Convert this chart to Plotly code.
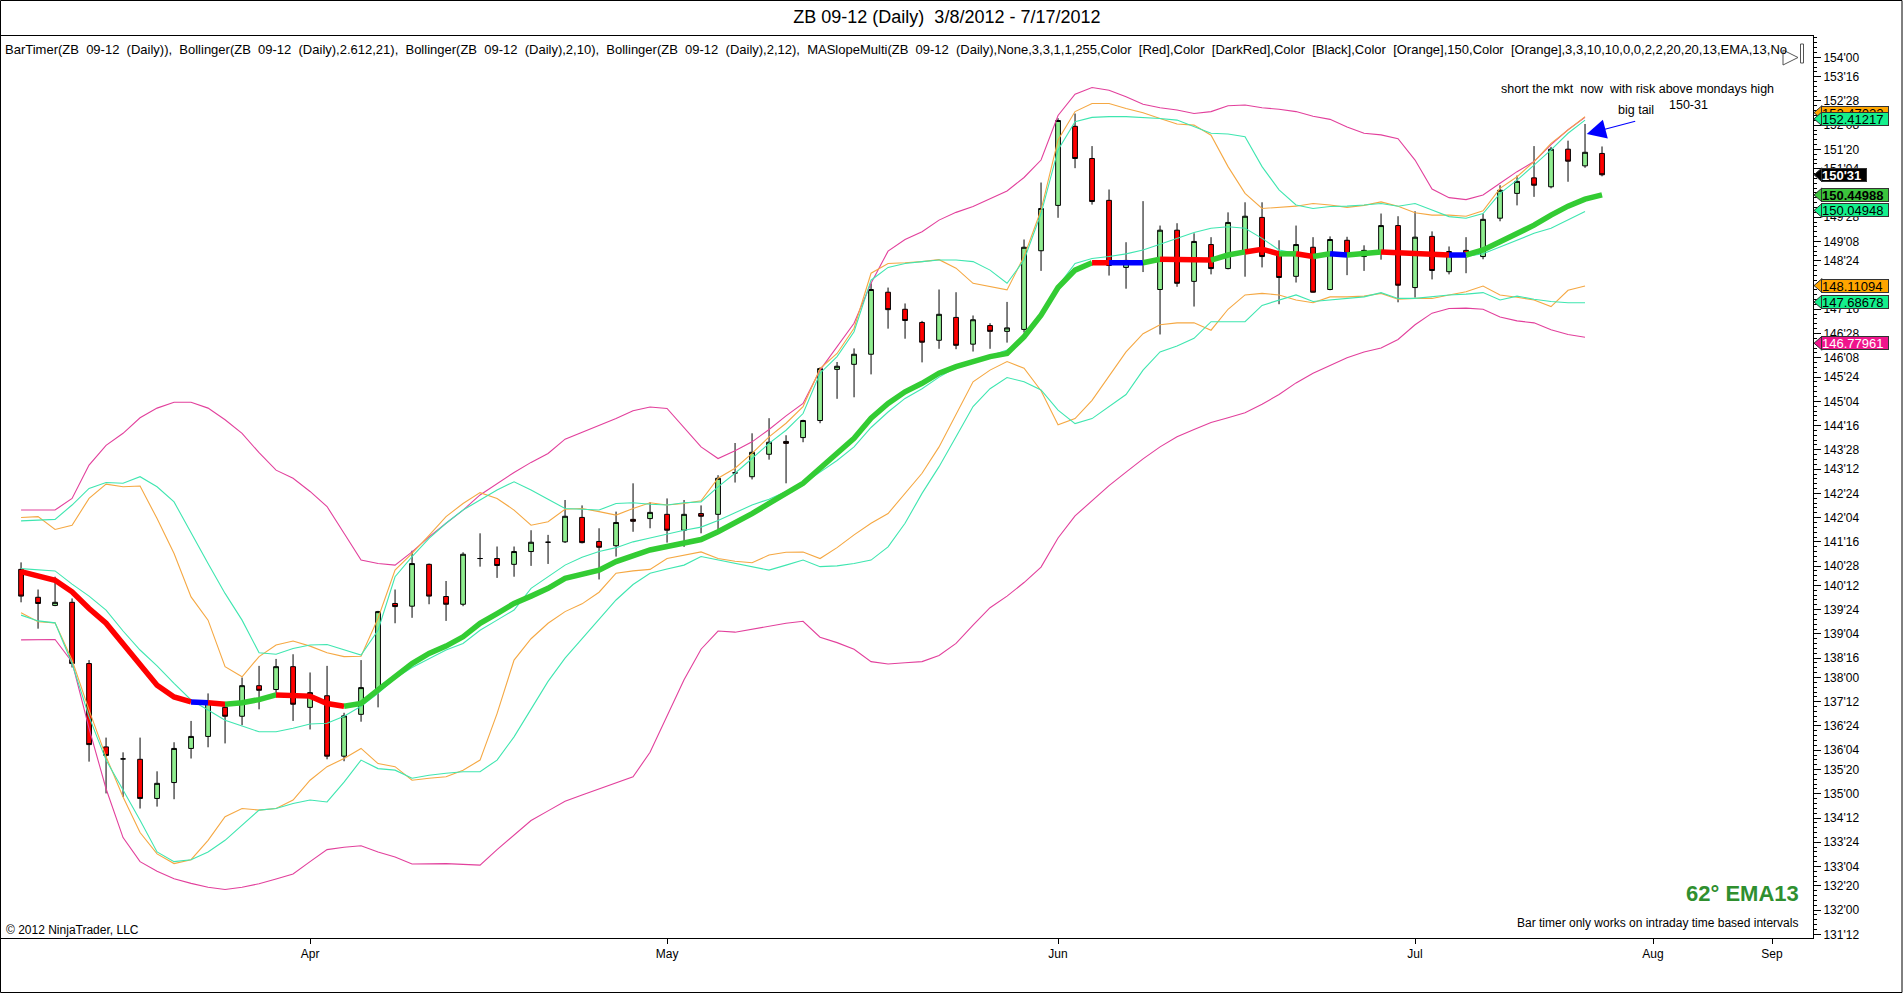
import numpy as np
import plotly.graph_objects as go

# --- daily bars, ZB 09-12 (bar index 0 = 3/8/2012) ---
opens = [140.79, 140.07, 139.86, 139.94, 138.36, 136.21, 135.90, 135.89, 134.88, 135.29,
         136.17, 136.48, 137.23, 137.00, 137.79, 137.69, 138.28, 137.23, 137.53, 135.97,
         137.05, 137.68, 139.91, 139.84, 140.92, 140.09, 139.89, 141.07, 141.07, 140.92,
         141.25, 141.49, 141.50, 142.13, 141.51, 141.40, 142.08, 142.10, 142.21, 141.80,
         142.23, 142.21, 143.28, 143.18, 143.76, 144.09, 144.19, 144.63, 145.95, 146.08,
         146.34, 147.94, 147.50, 147.16, 146.70, 147.29, 146.60, 147.08, 146.93, 146.98,
         149.01, 150.18, 152.22, 151.39, 150.31, 148.58, 148.71, 148.01, 149.54, 148.22,
         149.17, 148.55, 148.97, 149.87, 148.92, 148.35, 149.10, 148.01, 149.28, 148.86,
         148.99, 149.66, 148.06, 149.38, 148.47, 149.02, 148.86, 149.85, 150.49, 150.89,
         150.66, 151.63, 151.20, 151.52]
highs = [140.97, 140.27, 140.60, 140.04, 138.45, 136.45, 136.07, 136.45, 135.58, 136.33,
         136.88, 137.59, 137.31, 138.00, 138.30, 138.48, 138.60, 138.13, 138.30, 137.09,
         138.45, 139.72, 140.27, 141.27, 140.94, 140.49, 141.23, 141.72, 141.38, 141.38,
         141.80, 141.68, 142.58, 142.44, 141.85, 142.28, 143.01, 142.52, 142.62, 142.58,
         142.44, 143.22, 144.05, 144.30, 144.69, 144.25, 144.65, 146.00, 146.14, 146.49,
         148.17, 148.06, 147.65, 147.20, 148.01, 147.94, 147.34, 147.14, 147.69, 149.30,
         150.77, 152.43, 152.55, 151.71, 150.59, 149.23, 150.29, 149.66, 149.72, 149.46,
         149.36, 150.00, 150.26, 150.26, 149.28, 149.66, 149.36, 149.38, 149.37, 149.15,
         149.97, 149.90, 150.03, 149.51, 149.12, 149.36, 149.97, 150.70, 150.95, 151.71,
         151.69, 151.85, 152.28, 151.70]
lows = [139.94, 139.26, 139.84, 138.26, 135.83, 135.01, 134.92, 134.62, 134.67, 134.86,
        135.91, 136.20, 136.30, 136.77, 137.18, 137.50, 136.88, 136.66, 135.89, 135.84,
        136.86, 137.23, 139.40, 139.54, 139.89, 139.46, 139.84, 140.86, 140.57, 140.60,
        140.88, 140.93, 141.47, 141.46, 140.53, 141.12, 141.76, 141.85, 141.48, 141.37,
        141.72, 141.82, 143.03, 143.11, 143.62, 143.01, 144.07, 144.56, 145.19, 145.23,
        145.82, 147.00, 146.74, 146.13, 146.48, 146.47, 146.41, 146.48, 146.64, 146.90,
        148.49, 149.86, 151.14, 150.20, 148.37, 148.03, 148.46, 146.85, 148.08, 147.57,
        148.40, 148.53, 148.34, 148.58, 147.63, 148.19, 147.93, 147.99, 148.38, 148.49,
        148.78, 147.68, 147.80, 148.27, 148.40, 148.43, 148.79, 149.77, 150.18, 150.40,
        150.62, 150.79, 151.15, 150.93]
closes = [140.10, 139.91, 139.94, 138.36, 136.27, 135.99, 135.90, 134.88, 135.27, 136.17,
          136.48, 137.36, 137.00, 137.79, 137.67, 138.28, 137.31, 137.61, 135.97, 137.01,
          137.74, 139.70, 139.83, 140.94, 140.10, 139.89, 141.18, 141.07, 140.89, 141.25,
          141.49, 141.49, 142.16, 141.48, 141.36, 142.00, 142.03, 142.26, 141.80, 142.21,
          142.16, 143.14, 143.28, 143.81, 144.07, 144.04, 144.63, 145.97, 146.03, 146.34,
          148.01, 147.49, 147.21, 146.65, 147.37, 146.57, 147.23, 146.93, 147.02, 149.10,
          150.10, 152.37, 151.39, 150.28, 148.63, 148.76, 148.66, 149.54, 148.17, 149.25,
          148.55, 149.74, 149.90, 148.86, 148.32, 149.17, 147.94, 149.30, 148.92, 149.02,
          149.66, 148.12, 149.36, 148.50, 148.99, 148.86, 149.82, 150.57, 150.80, 150.70,
          151.63, 151.32, 151.55, 150.97]

# --- Bollinger(2.612,21) pink ---
bb21_upper = [142.32, 142.32, 142.32, 142.62, 143.48, 143.99, 144.30, 144.70, 144.95, 145.10,
              145.10, 144.95, 144.65, 144.30, 143.80, 143.35, 143.14, 142.80, 142.41, 141.72,
              141.03, 140.94, 140.90, 141.24, 141.63, 141.98, 142.32, 142.71, 143.01, 143.29,
              143.55, 143.78, 144.15, 144.32, 144.49, 144.68, 144.88, 144.98, 144.94, 144.45,
              143.95, 143.65, 143.85, 144.08, 144.40, 144.75, 145.07, 145.93, 146.55, 147.14,
              148.17, 149.00, 149.30, 149.50, 149.80, 150.00, 150.15, 150.35, 150.55, 150.90,
              151.35, 152.50, 153.05, 153.22, 153.15, 152.98, 152.79, 152.70, 152.64, 152.55,
              152.60, 152.75, 152.77, 152.70, 152.66, 152.60, 152.48, 152.40, 152.20, 152.04,
              152.00, 151.90, 151.35, 150.60, 150.38, 150.33, 150.45, 150.75, 151.05, 151.31,
              151.75, 152.13, 152.45]
bb21_lower = [138.97, 138.97, 138.98, 138.40, 136.69, 135.13, 133.87, 133.25, 133.00, 132.81,
              132.69, 132.59, 132.53, 132.59, 132.68, 132.80, 132.93, 133.25, 133.56, 133.62,
              133.66, 133.50, 133.37, 133.19, 133.20, 133.20, 133.18, 133.16, 133.56, 133.93,
              134.31, 134.56, 134.81, 134.97, 135.13, 135.30, 135.44, 136.07, 137.00, 137.94,
              138.73, 139.20, 139.17, 139.25, 139.32, 139.40, 139.45, 139.04, 138.90, 138.73,
              138.41, 138.35, 138.38, 138.41, 138.57, 138.88, 139.35, 139.80, 140.10, 140.45,
              140.85, 141.60, 142.17, 142.55, 142.95, 143.30, 143.64, 143.95, 144.21, 144.40,
              144.58, 144.70, 144.83, 145.05, 145.30, 145.60, 145.85, 146.05, 146.25, 146.40,
              146.50, 146.72, 147.10, 147.40, 147.52, 147.53, 147.50, 147.30, 147.20, 147.15,
              146.97, 146.85, 146.78]

# --- Bollinger(2,10) orange ---
bb10_upper = [142.13, 142.15, 141.82, 141.93, 142.62, 142.99, 142.92, 142.94, 142.10, 141.20,
              140.08, 139.48, 138.28, 138.02, 138.54, 138.84, 138.94, 138.81, 138.64, 138.54,
              138.55, 139.53, 140.77, 141.20, 141.67, 142.15, 142.49, 142.77, 142.62, 142.32,
              141.93, 142.02, 142.34, 142.36, 142.28, 142.19, 142.36, 142.51, 142.45, 142.49,
              142.56, 143.14, 143.40, 143.78, 144.21, 144.56, 144.99, 145.97, 146.36, 147.01,
              148.43, 148.68, 148.70, 148.73, 148.78, 148.56, 148.17, 148.08, 148.00, 148.86,
              150.06, 151.87, 152.60, 152.81, 152.81, 152.68, 152.57, 152.42, 152.28, 152.25,
              151.99, 151.18, 150.49, 150.10, 150.13, 150.16, 150.23, 150.19, 150.13, 150.18,
              150.27, 150.16, 149.99, 149.93, 149.93, 149.90, 150.04, 150.62, 150.92, 151.31,
              151.78, 152.12, 152.47]
bb10_lower = [139.67, 139.44, 139.41, 138.45, 137.16, 135.96, 134.92, 134.00, 133.45, 133.20,
              133.30, 133.80, 134.41, 134.62, 134.58, 134.62, 134.84, 135.35, 135.70, 135.91,
              136.17, 135.78, 135.70, 135.35, 135.40, 135.44, 135.61, 135.87, 137.07, 138.45,
              139.00, 139.40, 139.70, 139.90, 140.20, 140.69, 140.75, 140.79, 141.07, 141.15,
              141.24, 141.07, 141.00, 140.96, 141.16, 141.23, 141.24, 141.07, 141.35, 141.68,
              141.98, 142.23, 142.75, 143.27, 143.95, 144.81, 145.63, 145.93, 146.15, 145.98,
              145.40, 144.52, 144.68, 145.15, 145.77, 146.40, 146.87, 147.10, 147.15, 147.15,
              146.96, 147.50, 147.87, 147.91, 147.87, 147.74, 147.67, 147.82, 147.82, 147.84,
              147.91, 147.76, 147.78, 147.78, 147.87, 147.95, 148.10, 147.87, 147.81, 147.74,
              147.57, 147.99, 148.10]

# --- Bollinger(2,12) aquamarine ---
bb12_upper = [142.04, 142.06, 142.08, 142.45, 142.88, 143.03, 143.01, 143.18, 142.92, 142.53,
              141.72, 140.94, 140.17, 139.48, 138.64, 138.60, 138.75, 138.84, 138.85, 138.71,
              138.58, 139.22, 140.60, 141.12, 141.59, 141.98, 142.32, 142.58, 142.84, 143.05,
              142.84, 142.60, 142.36, 142.34, 142.32, 142.49, 142.51, 142.47, 142.45, 142.51,
              142.53, 142.92, 143.27, 143.65, 144.04, 144.38, 144.81, 145.85, 146.28, 146.92,
              148.25, 148.58, 148.68, 148.73, 148.77, 148.77, 148.73, 148.51, 148.17, 148.77,
              149.97, 151.61, 152.34, 152.45, 152.47, 152.47, 152.45, 152.42, 152.38, 152.21,
              152.04, 152.02, 151.95, 151.18, 150.58, 150.19, 150.10, 150.15, 150.16, 150.19,
              150.23, 150.16, 150.23, 150.06, 149.89, 149.85, 149.97, 150.49, 150.83, 151.22,
              151.61, 152.04, 152.38]
bb12_mid = [140.81, 140.78, 140.75, 140.41, 140.10, 139.74, 139.20, 138.71, 138.30, 137.85,
            137.42, 137.16, 136.90, 136.75, 136.60, 136.60, 136.69, 136.80, 136.82, 137.00,
            137.26, 137.59, 137.98, 138.26, 138.49, 138.71, 138.88, 139.22, 139.48, 139.74,
            140.30, 140.60, 140.90, 141.10, 141.25, 141.35, 141.50, 141.60, 141.70, 141.80,
            141.88, 142.05, 142.25, 142.45, 142.60, 142.80, 143.00, 143.30, 143.60, 143.95,
            144.45, 144.85, 145.20, 145.45, 145.75, 146.00, 146.15, 146.30, 146.45, 146.75,
            147.30, 148.10, 148.68, 148.81, 148.86, 148.93, 149.03, 149.18, 149.33, 149.48,
            149.59, 149.63, 149.59, 149.33, 149.03, 148.94, 148.86, 148.90, 148.93, 148.93,
            148.98, 148.96, 148.94, 148.87, 148.86, 148.86, 148.93, 149.11, 149.29, 149.46,
            149.59, 149.80, 150.02]
bb12_lower = [139.61, 139.46, 139.41, 138.36, 136.99, 135.87, 135.10, 134.32, 133.50, 133.25,
              133.30, 133.50, 133.80, 134.20, 134.58, 134.62, 134.75, 134.84, 134.79, 135.30,
              135.87, 135.65, 135.61, 135.40, 135.48, 135.53, 135.57, 135.57, 135.87, 136.47,
              137.20, 137.90, 138.50, 139.00, 139.50, 140.00, 140.40, 140.69, 140.80, 140.90,
              141.12, 141.03, 140.94, 140.86, 140.77, 140.90, 141.03, 140.86, 140.88, 140.94,
              141.03, 141.37, 141.98, 142.75, 143.44, 144.21, 144.99, 145.45, 145.74, 145.63,
              145.42, 144.90, 144.55, 144.68, 144.99, 145.30, 145.93, 146.40, 146.55, 146.75,
              147.18, 147.18, 147.18, 147.60, 147.74, 147.87, 147.70, 147.74, 147.78, 147.82,
              147.93, 147.78, 147.78, 147.82, 147.87, 147.89, 147.93, 147.74, 147.84, 147.76,
              147.70, 147.67, 147.67]

# --- MASlopeMulti EMA13 and its slope state per bar ---
ema13 = [140.73, 140.62, 140.51, 140.21, 139.78, 139.40, 138.88, 138.36, 137.80, 137.50,
         137.37, 137.35, 137.31, 137.35, 137.43, 137.55, 137.52, 137.52, 137.33, 137.26,
         137.33, 137.68, 138.02, 138.36, 138.62, 138.81, 139.05, 139.40, 139.65, 139.91,
         140.10, 140.30, 140.56, 140.66, 140.77, 140.99, 141.15, 141.29, 141.38, 141.46,
         141.56, 141.76, 141.98, 142.23, 142.49, 142.75, 143.01, 143.40, 143.78, 144.17,
         144.69, 145.07, 145.37, 145.59, 145.85, 146.02, 146.15, 146.28, 146.36, 146.79,
         147.35, 148.06, 148.51, 148.70, 148.70, 148.70, 148.70, 148.79, 148.79, 148.78,
         148.77, 148.90, 148.98, 149.05, 148.93, 148.93, 148.86, 148.93, 148.90, 148.94,
         148.98, 148.96, 148.93, 148.90, 148.90, 148.90, 149.03, 149.24, 149.46, 149.67,
         149.93, 150.16, 150.34, 150.45]
ema_state = (["down"] * 11 + ["flat"] + ["down"] + ["up"] * 3 + ["down"] * 4 + ["up"] * 44
             + ["down"] + ["flat"] * 2 + ["up"] + ["down"] * 3 + ["up"] * 2 + ["down"] * 2
             + ["up"] + ["down"] + ["up"] + ["flat"] + ["up"] * 2 + ["down"] * 4 + ["flat"]
             + ["up"] * 8)

# --- axis labels ---
month_labels = ["Apr", "May", "Jun", "Jul", "Aug", "Sep"]
month_bars = [17, 38, 61, 82, 96, 103]
price_ticks = [154.0, 153.5, 152.875, 152.25, 151.625, 151.125, 150.5, 149.875, 149.25, 148.75,
               148.125, 147.5, 146.875, 146.25, 145.75, 145.125, 144.5, 143.875, 143.375, 142.75,
               142.125, 141.5, 140.875, 140.375, 139.75, 139.125, 138.5, 138.0, 137.375, 136.75,
               136.125, 135.625, 135.0, 134.375, 133.75, 133.125, 132.625, 132.0, 131.375]

# right-axis value markers: value, text, fill, text colour
tag_values = [152.47, 152.41217, 150.96875, 150.44988, 150.04948, 148.11094, 147.68678, 146.77961]
tag_texts = ["152.47022", "152.41217", "<b>150'31</b>", "<b>150.44988</b>", "150.04948",
             "148.11094", "147.68678", "146.77961"]
tag_fills = ["#FFA500", "#14F08C", "#000000", "#3CC43C", "#14F08C", "#FFA500", "#14F08C", "#F0148C"]
tag_fonts = ["black", "black", "white", "black", "black", "black", "black", "white"]

PINK = "#E2409C"
ORANGE = "#F5A843"
AQUA = "#3FE6B0"
FONT = "Liberation Sans, Arial, sans-serif"
NB = "\u00a0"


def to32(v):
    return f"{int(v)}'{int(round((v % 1) * 32)):02d}"


def px_x(p):
    # pixel column -> paper x (plot spans px 1..1813)
    return (p - 1) / 1812


def px_y(p):
    # pixel row -> paper y (plot spans px 36..938)
    return (938 - p) / 902


fig = go.Figure()
band_x = list(range(len(bb21_upper)))
for series, color in [(bb21_upper, PINK), (bb21_lower, PINK),
                      (bb10_upper, ORANGE), (bb10_lower, ORANGE),
                      (bb12_upper, AQUA), (bb12_lower, AQUA), (bb12_mid, AQUA)]:
    fig.add_trace(go.Scatter(x=band_x, y=series, mode="lines",
                             line=dict(color=color, width=1.1), hoverinfo="skip"))

# EMA drawn in runs of the same slope colour
state_color = {"down": "#FF0000", "up": "#33CC33", "flat": "#0000FF"}
i = 1
while i < len(ema13):
    j = i
    while j + 1 < len(ema13) and ema_state[j + 1] == ema_state[i]:
        j += 1
    xs = list(range(i - 1, j + 1))
    fig.add_trace(go.Scatter(x=xs, y=ema13[i - 1:j + 1], mode="lines",
                             line=dict(color=state_color[ema_state[i]], width=5.5),
                             hoverinfo="skip"))
    i = j + 1

bars = list(range(len(closes)))
fig.add_trace(go.Candlestick(
    x=bars, open=opens, high=highs, low=lows, close=closes,
    increasing=dict(fillcolor="#90EE90", line=dict(color="black", width=1)),
    decreasing=dict(fillcolor="#FF0000", line=dict(color="black", width=1)),
    whiskerwidth=0,
))

shapes = []
annotations = []

# value markers on the price axis (boxes as annotations so later ones cover earlier ones)
tag_shift = [4, 0, 0, 0, 0, 0, 0, -6]
hh = 7 / 38.76
for v, t, f, c, s in zip(tag_values, tag_texts, tag_fills, tag_fonts, tag_shift):
    yc = v + s / 38.76
    box_w = 44 if "'" in t else 66
    shapes.append(dict(type="path", xref="paper", yref="y", layer="above",
                       path=f"M {px_x(1814)},{yc} L {px_x(1822)},{yc + hh} L {px_x(1822)},{yc - hh} Z",
                       fillcolor=f, line=dict(color="#333333", width=1)))
    annotations.append(dict(x=px_x(1821), y=yc, xref="paper", yref="y", xanchor="left",
                            yanchor="middle", showarrow=False, text=t, width=box_w, height=12,
                            align="left", bgcolor=f, bordercolor="#333333", borderwidth=1,
                            borderpad=0,
                            font=dict(family=FONT, size=13, color=c)))

# play icon at top right of indicator line
shapes.append(dict(type="path", xref="paper", yref="paper",
                   path=f"M {px_x(1783)},{px_y(50)} L {px_x(1798)},{px_y(57.5)} L {px_x(1783)},{px_y(65)} Z",
                   fillcolor="white", line=dict(color="#555555", width=1), layer="above"))
shapes.append(dict(type="rect", xref="paper", yref="paper", x0=px_x(1800.5), x1=px_x(1803.5),
                   y0=px_y(63), y1=px_y(44), fillcolor="white",
                   line=dict(color="#555555", width=1), layer="above"))
# outer frame
shapes.append(dict(type="rect", xref="paper", yref="paper", x0=px_x(0.5), x1=px_x(1902),
                   y0=px_y(992.5), y1=px_y(0.5), line=dict(color="black", width=1), layer="below"))

indicators = (f"BarTimer(ZB{NB} 09-12{NB} (Daily)),{NB} Bollinger(ZB{NB} 09-12{NB} (Daily),2.612,21),{NB} "
              f"Bollinger(ZB{NB} 09-12{NB} (Daily),2,10),{NB} Bollinger(ZB{NB} 09-12{NB} (Daily),2,12),{NB} "
              f"MASlopeMulti(ZB{NB} 09-12{NB} (Daily),None,3,3,1,1,255,Color{NB} [Red],Color{NB} [DarkRed],"
              f"Color{NB} [Black],Color{NB} [Orange],150,Color{NB} [Orange],3,3,10,10,0,0,2,2,20,20,13,EMA,13,No")
annotations.append(dict(x=px_x(3), y=px_y(50), xref="paper", yref="paper", xanchor="left",
                        yanchor="middle", showarrow=False, text=indicators,
                        font=dict(family=FONT, size=13, color="black")))
annotations.append(dict(x=px_x(4), y=px_y(930), xref="paper", yref="paper", xanchor="left",
                        yanchor="middle", showarrow=False, text="© 2012 NinjaTrader, LLC",
                        font=dict(family=FONT, size=12, color="black")))
annotations.append(dict(x=px_x(1800), y=px_y(923), xref="paper", yref="paper", xanchor="right",
                        yanchor="middle", showarrow=False,
                        text="Bar timer only works on intraday time based intervals",
                        font=dict(family=FONT, size=12, color="black")))
annotations.append(dict(x=px_x(1801), y=px_y(893), xref="paper", yref="paper", xanchor="right",
                        yanchor="middle", showarrow=False, text="<b>62° EMA13</b>",
                        font=dict(family=FONT, size=22, color="#2F8F2F")))

# trade note
annotations.append(dict(x=95.06, y=153.19, xref="x", yref="y", showarrow=False,
                        text=f"short the mkt {NB}now {NB}with risk above mondays high",
                        font=dict(family=FONT, size=12.5, color="black")))
annotations.append(dict(x=95.0, y=152.64, xref="x", yref="y", showarrow=False, text="big tail",
                        font=dict(family=FONT, size=12.5, color="black")))
annotations.append(dict(x=98.06, y=152.77, xref="x", yref="y", showarrow=False, text="150-31",
                        font=dict(family=FONT, size=12.5, color="black")))
annotations.append(dict(x=92.1, y=152.02, ax=95.04, ay=152.36, xref="x", yref="y",
                        axref="x", ayref="y", showarrow=True, text="", arrowhead=2,
                        arrowsize=3.5, arrowwidth=1.1, arrowcolor="#0000FF", standoff=0))

fig.update_layout(
    width=1903, height=994,
    margin=dict(l=1, r=90, t=36, b=56),
    paper_bgcolor="white", plot_bgcolor="white",
    showlegend=False,
    boxgap=0.6, boxgroupgap=0.3,
    font=dict(family=FONT, size=12, color="black"),
    title=dict(text=f"ZB 09-12 (Daily) {NB}3/8/2012 - 7/17/2012", x=0.4976, y=0.983,
               xanchor="center", yanchor="middle", font=dict(family=FONT, size=18, color="black")),
    shapes=shapes,
    annotations=annotations,
)
fig.update_xaxes(range=[-1.18, 105.41], tickmode="array", tickvals=month_bars, ticktext=month_labels,
                 ticks="outside", ticklen=5, tickcolor="black", showline=True, linecolor="black",
                 linewidth=1, mirror=True, showgrid=False, zeroline=False,
                 rangeslider=dict(visible=False), tickfont=dict(size=12))
fig.update_yaxes(side="right", range=[131.28, 154.55], tickmode="array", tickvals=price_ticks,
                 ticktext=[to32(v) for v in price_ticks], ticks="outside", ticklen=7,
                 tickcolor="black", showline=True, linecolor="black", linewidth=1, mirror=True,
                 showgrid=False, zeroline=False, tickfont=dict(size=12),
                 minor=dict(tickmode="array", tickvals=list(np.arange(131.375, 154.55, 0.125)),
                            ticks="outside", ticklen=3, tickcolor="black"))

fig.write_html("out.html", config={"displayModeBar": False},
               post_script="document.body.style.margin='0';")
